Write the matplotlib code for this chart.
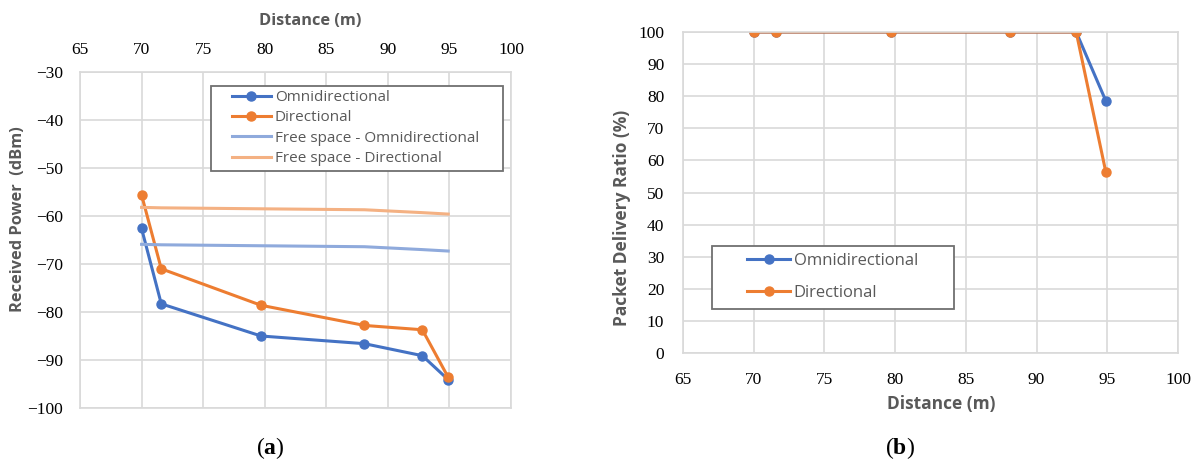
import numpy as np
import matplotlib
matplotlib.use("Agg")
import matplotlib.pyplot as plt
from matplotlib.patches import Rectangle

# data
distance = [70.0, 71.6, 79.7, 88.1, 92.8, 94.9]
rx_omni = [-62.6, -78.3, -85.0, -86.6, -89.1, -94.1]
rx_dir = [-55.6, -71.0, -78.6, -82.8, -83.7, -93.6]
fs_omni = [-65.9, -66.0, -66.2, -66.4, -67.0, -67.3]
fs_dir = [-58.2, -58.3, -58.5, -58.7, -59.3, -59.6]
pdr_omni = [100, 100, 100, 100, 100, 78.5]
pdr_dir = [100, 100, 100, 100, 100, 56.3]

BLUE = '#4472C4'
ORANGE = '#ED7D31'
LBLUE = '#8FAADC'
LORANGE = '#F4B183'
GRID = '#D9D9D9'
TXT = '#595959'
FRAME = '#707070'

serif = 'Liberation Serif'
sans = 'Open Sans'
plt.rcParams['font.family'] = [serif, 'DejaVu Sans']
plt.rcParams['mathtext.fontset'] = 'custom'
plt.rcParams['mathtext.rm'] = serif
plt.rcParams['mathtext.bf'] = serif + ':bold'

fig = plt.figure(figsize=(11.95, 4.61), dpi=100)
W, H = 1195, 461


def box(l, t, r, b):
    return [l / W, 1 - b / H, (r - l) / W, (b - t) / H]


def style(ax):
    ax.grid(True, color=GRID, linewidth=1.2)
    ax.set_axisbelow(True)
    for s in ax.spines.values():
        s.set_color(GRID)
        s.set_linewidth(1.2)
    ax.tick_params(length=0, labelsize=12.5, colors='black')


def legend_frame(ax, l, t, r, b):
    ax.add_patch(Rectangle((l / W, 1 - b / H), (r - l) / W, (b - t) / H,
                           transform=fig.transFigure, facecolor='white', clip_on=False,
                           edgecolor=FRAME, linewidth=1.3, zorder=4))


# (a) received power
ax1 = fig.add_axes(box(80, 72, 511, 408))
ax1.plot(distance, rx_omni, color=BLUE, lw=2.2, marker='o', ms=6.5, label='Omnidirectional')
ax1.plot(distance, rx_dir, color=ORANGE, lw=2.2, marker='o', ms=6.5, label='Directional')
ax1.plot(distance, fs_omni, color=LBLUE, lw=2.2, label='Free space - Omnidirectional')
ax1.plot(distance, fs_dir, color=LORANGE, lw=2.2, label='Free space - Directional')
ax1.set_xlim(65, 100)
ax1.set_ylim(-100, -30)
ax1.set_xticks(np.arange(65, 101, 5))
ax1.set_yticks(np.arange(-100, -29, 10))
ax1.set_yticklabels([f'\u2212{abs(v)}' for v in range(-100, -29, 10)])
ax1.xaxis.tick_top()
style(ax1)
ax1.tick_params(axis='x', pad=10)
ax1.tick_params(axis='y', pad=12)
fig.text(310 / W, 1 - 21 / H, 'Distance (m)', fontfamily=sans, fontweight='bold',
         fontsize=11.8, color=TXT, ha='center', va='center')
fig.text(18 / W, 1 - 219 / H, 'Received Power  (dBm)', fontfamily=sans, fontweight='bold',
         fontsize=11.8, color=TXT, ha='center', va='center', rotation=90)
legend_frame(ax1, 211, 86, 503, 171)
leg1 = ax1.legend(loc='center left', bbox_to_anchor=(232 / W, 1 - 128 / H),
                  bbox_transform=fig.transFigure, prop={'family': sans, 'size': 11},
                  labelcolor=TXT, frameon=False, handlelength=2.55, handletextpad=0.25,
                  borderpad=0, labelspacing=0.35, borderaxespad=0)
leg1.set_zorder(5)

# (b) packet delivery ratio
ax2 = fig.add_axes(box(683, 32, 1178, 353))
ax2.plot(distance, pdr_omni, color=BLUE, lw=2.2, marker='o', ms=6.5, label='Omnidirectional')
ax2.plot(distance, pdr_dir, color=ORANGE, lw=2.2, marker='o', ms=6.5, label='Directional')
ax2.set_xlim(65, 100)
ax2.set_ylim(0, 100)
ax2.set_xticks(np.arange(65, 101, 5))
ax2.set_yticks(np.arange(0, 101, 10))
style(ax2)
ax2.tick_params(axis='x', pad=14)
ax2.tick_params(axis='y', pad=13.5)
fig.text(941 / W, 1 - 404 / H, 'Distance (m)', fontfamily=sans, fontweight='bold',
         fontsize=12.5, color=TXT, ha='center', va='center')
fig.text(622 / W, 1 - 218 / H, 'Packet Delivery Ratio (%)', fontfamily=sans, fontweight='bold',
         fontsize=12.5, color=TXT, ha='center', va='center', rotation=90)
legend_frame(ax2, 712, 246, 954, 309)
leg2 = ax2.legend(loc='center left', bbox_to_anchor=(747 / W, 1 - 277 / H),
                  bbox_transform=fig.transFigure, prop={'family': sans, 'size': 12},
                  labelcolor=TXT, frameon=False, handlelength=2.6, handletextpad=0.2,
                  borderpad=0, labelspacing=0.92, borderaxespad=0)
leg2.set_zorder(5)

# captions
fig.text(270 / W, 1 - 448 / H, r'($\mathbf{a}$)', fontsize=17, ha='center', va='center')
fig.text(900 / W, 1 - 448 / H, r'($\mathbf{b}$)', fontsize=17, ha='center', va='center')

fig.savefig('out.png', dpi=100)
